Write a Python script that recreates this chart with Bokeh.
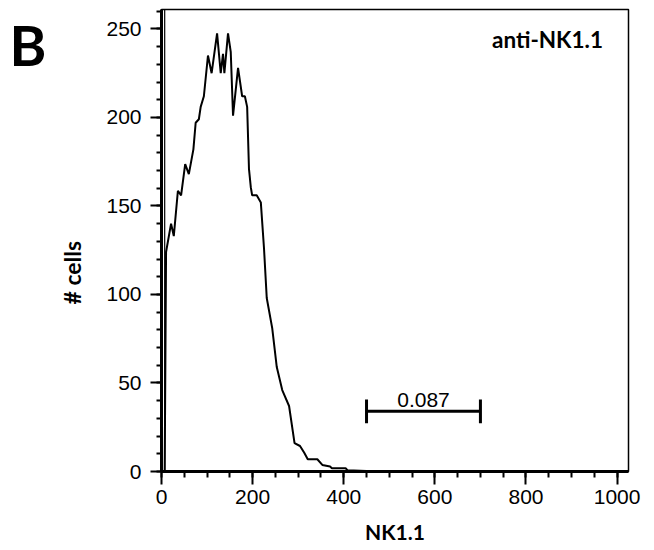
import math
from bokeh.plotting import figure
from bokeh.models import (Range1d, SingleIntervalTicker, FixedTicker, Label, Span,
                          LinearAxis, Title)
from bokeh.embed import file_html
from bokeh.resources import INLINE

# NK1.1 channel values and cell counts of the histogram
nk11 = [0, 7, 10, 21, 27, 36, 43, 52, 60, 70, 75, 82, 86, 93, 102, 110, 122, 130,
        135, 138, 146, 152, 157, 168, 177, 183, 188, 192, 196, 199, 209, 218, 225,
        231, 243, 253, 265, 280, 292, 304, 313, 321, 342, 353, 370, 374, 404, 408,
        450, 1023]
cells = [0, 0, 124, 140, 133, 158.6, 156, 173.6, 168, 182, 197, 199, 206, 212, 235,
         225, 247.5, 225, 236, 225, 247.5, 237, 201, 228, 212, 212, 206, 171, 160.6,
         156, 156, 152, 126, 98, 81, 59, 46, 37, 16, 14.4, 10.7, 6.9, 6.9, 3.7, 2.8,
         1.9, 1.9, 0.7, 0.3, 0.3]

# gate
gate_start = 450
gate_end = 700
gate_level = 34
gate_text = "0.087"

x_ticks_interval = 200
y_ticks_interval = 50

sample_name = "anti-NK1.1"
panel_letter = "B"
x_title = "NK1.1"
y_title = "# cells"

TICK_FONT = "Liberation Sans"
BOLD_FONT = "Lato"

W, H = 650, 546
p = figure(width=W, height=H, output_backend="svg", toolbar_location=None,
           x_range=Range1d(0, 1025), y_range=Range1d(0, 261),
           min_border_left=161, min_border_right=W - 628, min_border_top=9,
           min_border_bottom=H - 474)
p.background_fill_color = "white"
p.border_fill_color = "white"
p.grid.visible = False
p.outline_line_color = "black"
p.outline_line_width = 1.5

# axes
p.xaxis.ticker = SingleIntervalTicker(interval=x_ticks_interval, num_minor_ticks=4)
p.yaxis.ticker = SingleIntervalTicker(interval=y_ticks_interval, num_minor_ticks=5)
for ax in (p.xaxis[0], p.yaxis[0]):
    ax.axis_line_width = 3
    ax.axis_line_color = "black"
    ax.major_tick_line_width = 2
    ax.minor_tick_line_width = 2
    ax.major_tick_line_color = "black"
    ax.minor_tick_line_color = "black"
    ax.major_tick_in = 0
    ax.minor_tick_in = 0
    ax.major_label_text_font = TICK_FONT
    ax.major_label_text_font_size = "21px"
    ax.major_label_text_color = "black"
p.xaxis.major_tick_out = 13
p.xaxis.minor_tick_out = 6
p.yaxis.major_tick_out = 11
p.yaxis.minor_tick_out = 5
p.xaxis.major_label_standoff = 5
p.yaxis.major_label_standoff = 9

p.xaxis.axis_label = x_title
p.xaxis.axis_label_text_font = BOLD_FONT
p.xaxis.axis_label_text_font_style = "bold"
p.xaxis.axis_label_text_font_size = "21px"
p.xaxis.axis_label_text_color = "black"
p.xaxis.axis_label_standoff = 12

# y title, placed lower than the frame centre as in the reference
p.add_layout(Title(text=y_title, align="left", offset=167, standoff=36,
                   text_font=BOLD_FONT, text_font_style="bold",
                   text_font_size="23px", text_color="black"), "left")

# panel letter as an outer left axis with a single label
letter_pos = 241
letter_axis = LinearAxis(ticker=FixedTicker(ticks=[letter_pos]),
                         major_label_overrides={letter_pos: panel_letter},
                         axis_line_color=None, major_tick_line_color=None,
                         minor_tick_line_color=None, major_tick_out=0, major_tick_in=0,
                         major_label_standoff=-9, major_label_text_font=BOLD_FONT,
                         major_label_text_font_style="bold",
                         major_label_text_font_size="56px",
                         major_label_text_color="black")
p.add_layout(letter_axis, "left")

# inner left frame line
p.add_layout(Span(location=7, dimension="height", line_color="black", line_width=1.2))

# histogram
p.line(nk11, cells, line_color="black", line_width=2)

# gate
cap = 6.7
p.segment(x0=[gate_start, gate_start, gate_end], y0=[gate_level, gate_level - cap, gate_level - cap],
          x1=[gate_end, gate_start, gate_end], y1=[gate_level, gate_level + cap, gate_level + cap],
          line_color="black", line_width=3)
p.add_layout(Label(x=(gate_start + gate_end) / 2, y=gate_level + 6.4, text=gate_text,
                   text_align="center", text_baseline="alphabetic",
                   text_font=TICK_FONT, text_font_size="21px", text_color="black"))

# sample name
p.add_layout(Label(x=969, y=243.8, text=sample_name, text_align="right",
                   text_baseline="alphabetic", text_font=BOLD_FONT, text_font_style="bold",
                   text_font_size="22.5px", text_color="black"))

open("out.html", "w").write(file_html(p, INLINE))
